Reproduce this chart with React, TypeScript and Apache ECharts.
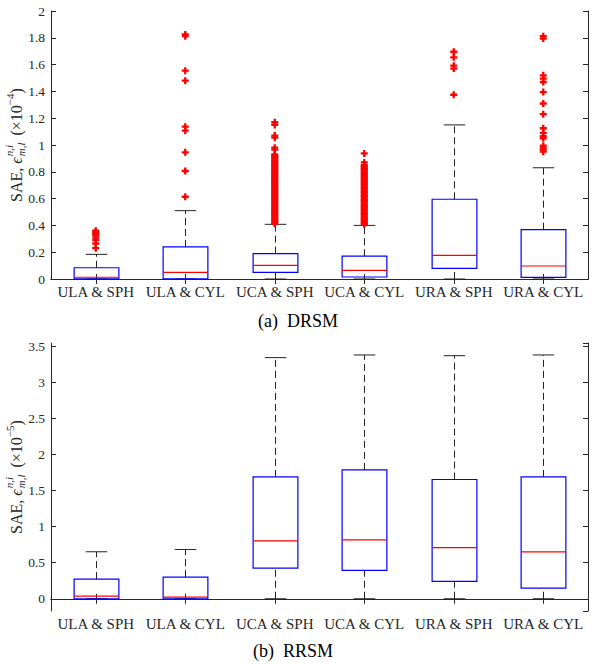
import { useEffect, useRef } from "react";
import * as echarts from "echarts";

const categories = ["ULA & SPH", "ULA & CYL", "UCA & SPH", "UCA & CYL", "URA & SPH", "URA & CYL"];

// (a) DRSM, units 1e-4 : [lower whisker, Q1, median, Q3, upper whisker]
const drsmBoxes = [
  [0, 0.001, 0.013, 0.084, 0.184],
  [0, 0.001, 0.05, 0.239, 0.51],
  [0, 0.05, 0.102, 0.19, 0.408],
  [0, 0.015, 0.065, 0.17, 0.4],
  [0, 0.08, 0.177, 0.595, 1.15],
  [0, 0.012, 0.097, 0.368, 0.83],
];

const drsmOutULASPH = [0.23, 0.265, 0.29, 0.31, 0.33, 0.34, 0.35, 0.36];
const drsmOutULACYL = [0.614, 0.806, 0.945, 1.107, 1.137, 1.48, 1.555, 1.812, 1.825];
const drsmOutUCASPH = [
  0.412, 0.42, 0.432, 0.44, 0.452, 0.46, 0.471, 0.48, 0.492, 0.5, 0.511, 0.52, 0.53, 0.542,
  0.55, 0.561, 0.57, 0.58, 0.592, 0.6, 0.611, 0.62, 0.63, 0.642, 0.65, 0.66, 0.671, 0.68,
  0.69, 0.7, 0.712, 0.72, 0.73, 0.741, 0.75, 0.762, 0.77, 0.78, 0.79, 0.8, 0.812, 0.82,
  0.83, 0.841, 0.85, 0.86, 0.87, 0.882, 0.89, 0.9, 0.91, 0.92, 0.93, 0.965, 0.98, 1.055,
  1.07, 1.15, 1.17,
];
const drsmOutUCACYL = [
  0.408, 0.415, 0.425, 0.436, 0.445, 0.452, 0.462, 0.475, 0.482, 0.49, 0.5, 0.512, 0.52,
  0.53, 0.541, 0.55, 0.561, 0.572, 0.58, 0.59, 0.6, 0.612, 0.62, 0.63, 0.64, 0.652, 0.66,
  0.672, 0.68, 0.69, 0.7, 0.712, 0.72, 0.73, 0.742, 0.75, 0.76, 0.772, 0.78, 0.79, 0.8,
  0.812, 0.82, 0.83, 0.84, 0.85, 0.87, 0.937,
];
const drsmOutURASPH = [1.375, 1.57, 1.592, 1.654, 1.696];
const drsmOutURACYL = [
  0.95, 0.965, 0.98, 0.995, 1.05, 1.065, 1.09, 1.125, 1.23, 1.31, 1.395, 1.47, 1.495, 1.52,
  1.795, 1.812,
];
const drsmOutliers = [drsmOutULASPH, drsmOutULACYL, drsmOutUCASPH, drsmOutUCACYL, drsmOutURASPH, drsmOutURACYL];

// (b) RRSM, units 1e-5
const rrsmBoxes = [
  [0, 0, 0.037, 0.272, 0.652],
  [0, 0, 0.023, 0.3, 0.684],
  [0, 0.425, 0.804, 1.692, 3.347],
  [0, 0.393, 0.818, 1.789, 3.384],
  [0, 0.24, 0.711, 1.655, 3.374],
  [0, 0.147, 0.652, 1.692, 3.384],
];

const FAM = "Liberation Serif";
const INK = "#262626";

function renderBox(_params: any, api: any) {
  const i = api.value(0);
  const lo = api.coord([i, api.value(1)]);
  const q1 = api.coord([i, api.value(2)]);
  const md = api.coord([i, api.value(3)]);
  const q3 = api.coord([i, api.value(4)]);
  const hi = api.coord([i, api.value(5)]);
  const band = api.size([1, 0])[0];
  const half = band * 0.25;
  const cap = band * 0.12;
  const cx = Math.round(lo[0]) + 0.5;
  const dash = { stroke: "#222", lineWidth: 1, lineDash: [7, 4], fill: "none" };
  const solid = { stroke: "#222", lineWidth: 1, fill: "none" };
  return {
    type: "group",
    children: [
      { type: "line", shape: { x1: cx, y1: q3[1], x2: cx, y2: hi[1] }, style: dash },
      { type: "line", shape: { x1: cx, y1: lo[1], x2: cx, y2: q1[1] }, style: dash },
      { type: "line", shape: { x1: cx - cap, y1: hi[1], x2: cx + cap, y2: hi[1] }, style: solid },
      { type: "line", shape: { x1: cx - cap, y1: lo[1], x2: cx + cap, y2: lo[1] }, style: solid },
      {
        type: "rect",
        shape: { x: cx - half, y: q3[1], width: 2 * half, height: q1[1] - q3[1] },
        style: { fill: "none", stroke: "#0000ff", lineWidth: 1.2 },
      },
      {
        type: "line",
        shape: { x1: cx - half, y1: md[1], x2: cx + half, y2: md[1] },
        style: { stroke: "#ff0000", lineWidth: 1.2 },
      },
    ],
  };
}

function yLabel(cx: number, cy: number, exp: string) {
  const ctx = document.createElement("canvas").getContext("2d") as CanvasRenderingContext2D;
  const measure = (t: string, size: number, italic: boolean) => {
    ctx.font = `${italic ? "italic " : ""}${size}px "${FAM}"`;
    return ctx.measureText(t).width;
  };
  const B = 16;
  const S = 11;
  const parts: any[] = [];
  let x = 0;
  const add = (text: string, size: number, italic: boolean, dy: number) => {
    parts.push({ text, size, italic, dy, x });
    x += measure(text, size, italic);
  };
  add("SAE, ", B, false, 0);
  add("ϵ", B, true, 0);
  parts.push({ text: "n,i", size: S, italic: true, dy: -7, x: x + 1 });
  parts.push({ text: "m,l", size: S, italic: true, dy: 5, x: x + 1 });
  x += Math.max(measure("n,i", S, true), measure("m,l", S, true)) + 4;
  add(" (×10", B, false, 0);
  add("−" + exp, S, false, -6);
  add(")", B, false, 0);
  const W = x;
  return {
    type: "group",
    x: cx,
    y: cy,
    rotation: Math.PI / 2,
    children: parts.map((p) => ({
      type: "text",
      x: p.x - W / 2,
      y: p.dy,
      style: {
        text: p.text,
        fontSize: p.size,
        fontFamily: FAM,
        fontStyle: p.italic ? "italic" : "normal",
        fill: INK,
        align: "left",
        verticalAlign: "middle",
      },
    })),
  };
}

export default function App() {
  const ref = useRef<HTMLDivElement>(null);
  useEffect(() => {
    if (!ref.current) return;
    const chart = echarts.init(ref.current, undefined, { renderer: "svg" });
    const axisLine = { show: true, lineStyle: { color: INK, width: 1 } };
    const tick = { show: true, inside: true, length: 5, lineStyle: { color: INK } };
    const labelStyle = { color: INK, fontFamily: FAM };
    const xAxes: any[] = [];
    const yAxes: any[] = [];
    [0, 1].forEach((g) => {
      xAxes.push({
        type: "category",
        gridIndex: g,
        data: categories,
        position: "bottom",
        axisLine,
        axisTick: { ...tick, alignWithLabel: true },
        axisLabel: { ...labelStyle, fontSize: 15, margin: 5, interval: 0 },
        splitLine: { show: false },
      });
      xAxes.push({
        type: "category",
        gridIndex: g,
        data: categories,
        position: "top",
        axisLine,
        axisTick: { ...tick, alignWithLabel: true },
        axisLabel: { show: false },
        splitLine: { show: false },
      });
    });
    const yTop = { min: 0, max: 2, interval: 0.2 };
    const yBot = { min: -0.17, max: 3.55, splitNumber: 7 };
    [yTop, yBot].forEach((r, g) => {
      yAxes.push({
        type: "value",
        gridIndex: g,
        position: "left",
        ...r,
        axisLine,
        axisTick: tick,
        axisLabel: {
          ...labelStyle,
          fontSize: 13.5,
          margin: 6,
          showMinLabel: g === 0,
          showMaxLabel: g === 0,
        },
        splitLine: { show: false },
      });
      yAxes.push({
        type: "value",
        gridIndex: g,
        position: "right",
        ...r,
        axisLine,
        axisTick: tick,
        axisLabel: { show: false },
        splitLine: { show: false },
      });
    });

    const plus = "path://M2,0H4V2H6V4H4V6H2V4H0V2H2Z";
    const drsmOutData: number[][] = [];
    drsmOutliers.forEach((arr, i) => arr.forEach((v) => drsmOutData.push([i, v])));

    chart.setOption({
      animation: false,
      grid: [
        { left: 51, top: 11, width: 537, height: 268 },
        { left: 51, top: 343, width: 537, height: 268 },
      ],
      xAxis: xAxes,
      yAxis: yAxes,
      series: [
        {
          type: "custom",
          xAxisIndex: 0,
          yAxisIndex: 0,
          renderItem: renderBox,
          encode: { x: 0, y: [1, 2, 3, 4, 5] },
          data: drsmBoxes.map((b, i) => [i, ...b]),
          z: 2,
        },
        {
          type: "scatter",
          xAxisIndex: 0,
          yAxisIndex: 0,
          symbol: plus,
          symbolSize: 7,
          itemStyle: { color: "#ff0000", opacity: 1 },
          data: drsmOutData,
          z: 3,
        },
        {
          type: "custom",
          xAxisIndex: 2,
          yAxisIndex: 2,
          renderItem: renderBox,
          encode: { x: 0, y: [1, 2, 3, 4, 5] },
          data: rrsmBoxes.map((b, i) => [i, ...b]),
          z: 2,
        },
      ],
      graphic: [
        yLabel(16, 145, "4"),
        yLabel(16, 477, "5"),
        {
          type: "text",
          x: 298,
          y: 321,
          style: { text: "(a)  DRSM", fontSize: 18, fontFamily: FAM, fill: "#000", align: "center", verticalAlign: "middle" },
        },
        {
          type: "text",
          x: 293,
          y: 651,
          style: { text: "(b)  RRSM", fontSize: 18, fontFamily: FAM, fill: "#000", align: "center", verticalAlign: "middle" },
        },
      ],
    });
    return () => chart.dispose();
  }, []);
  return <div ref={ref} style={{ position: "absolute", left: 0, top: 0, width: 592, height: 664 }} />;
}
